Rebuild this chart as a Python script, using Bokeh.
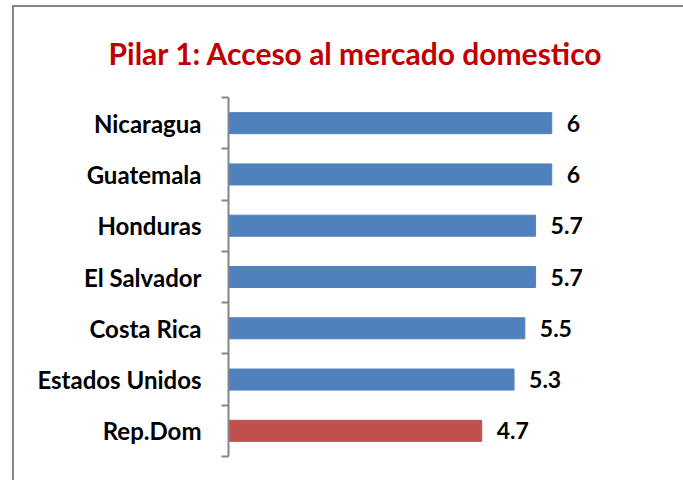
from bokeh.plotting import figure
from bokeh.layouts import column
from bokeh.models import ColumnDataSource, FixedTicker, Range1d, Title
from bokeh.core.properties import value
from bokeh.embed import file_html
from bokeh.resources import INLINE

categories = ["Nicaragua", "Guatemala", "Honduras", "El Salvador", "Costa Rica", "Estados Unidos", "Rep.Dom"]
scores = [6, 6, 5.7, 5.7, 5.5, 5.3, 4.7]
colors = ["#4F81BD", "#4F81BD", "#4F81BD", "#4F81BD", "#4F81BD", "#4F81BD", "#C0504D"]
title_text = "Pilar 1: Acceso al mercado domestico"

n = len(categories)
ypos = [n - 1 - i + 0.5 for i in range(n)]
labels = [str(v) for v in scores]

src = ColumnDataSource(dict(y=ypos, v=scores, c=colors, lab=labels))

p = figure(width=669, height=473, output_backend="svg", toolbar_location=None,
           x_range=Range1d(0, 8), y_range=Range1d(0, n),
           min_border_left=214, min_border_right=24, min_border_top=90, min_border_bottom=24)
p.outline_line_color = None
p.grid.visible = False
p.xaxis.visible = False
p.background_fill_color = "white"
p.border_fill_color = "white"

p.hbar(y="y", right="v", left=0, height=0.41, fill_color="c", line_color="c", source=src)
p.text(x="v", y="y", text="lab", source=src, x_offset=15, text_align="left", text_baseline="middle",
       text_font=value("Lato"), text_font_style="bold", text_font_size="23px", text_color="black")

ya = p.yaxis[0]
ya.ticker = FixedTicker(ticks=ypos, minor_ticks=list(range(n + 1)))
ya.major_label_overrides = {y: c for y, c in zip(ypos, categories)}
ya.major_tick_line_color = None
ya.major_tick_out = 0
ya.major_tick_in = 0
ya.minor_tick_out = 7
ya.minor_tick_in = 0
ya.minor_tick_line_color = "#868686"
ya.minor_tick_line_width = 2
ya.axis_line_color = "#868686"
ya.axis_line_width = 2
ya.major_label_standoff = 20
ya.major_label_text_font = "Lato"
ya.major_label_text_font_style = "bold"
ya.major_label_text_font_size = "24px"
ya.major_label_text_color = "black"

p.add_layout(Title(text=title_text, align="left", offset=-120, standoff=49, vertical_align="top",
                   text_font="Lato", text_font_style="bold", text_font_size="30px", text_color="#C00000"), "above")

layout = column(p, styles={"margin-left": "12px", "margin-top": "5px",
                           "border-left": "2px solid #868686", "border-top": "2px solid #868686"})

open("out.html", "w").write(file_html(layout, INLINE))
